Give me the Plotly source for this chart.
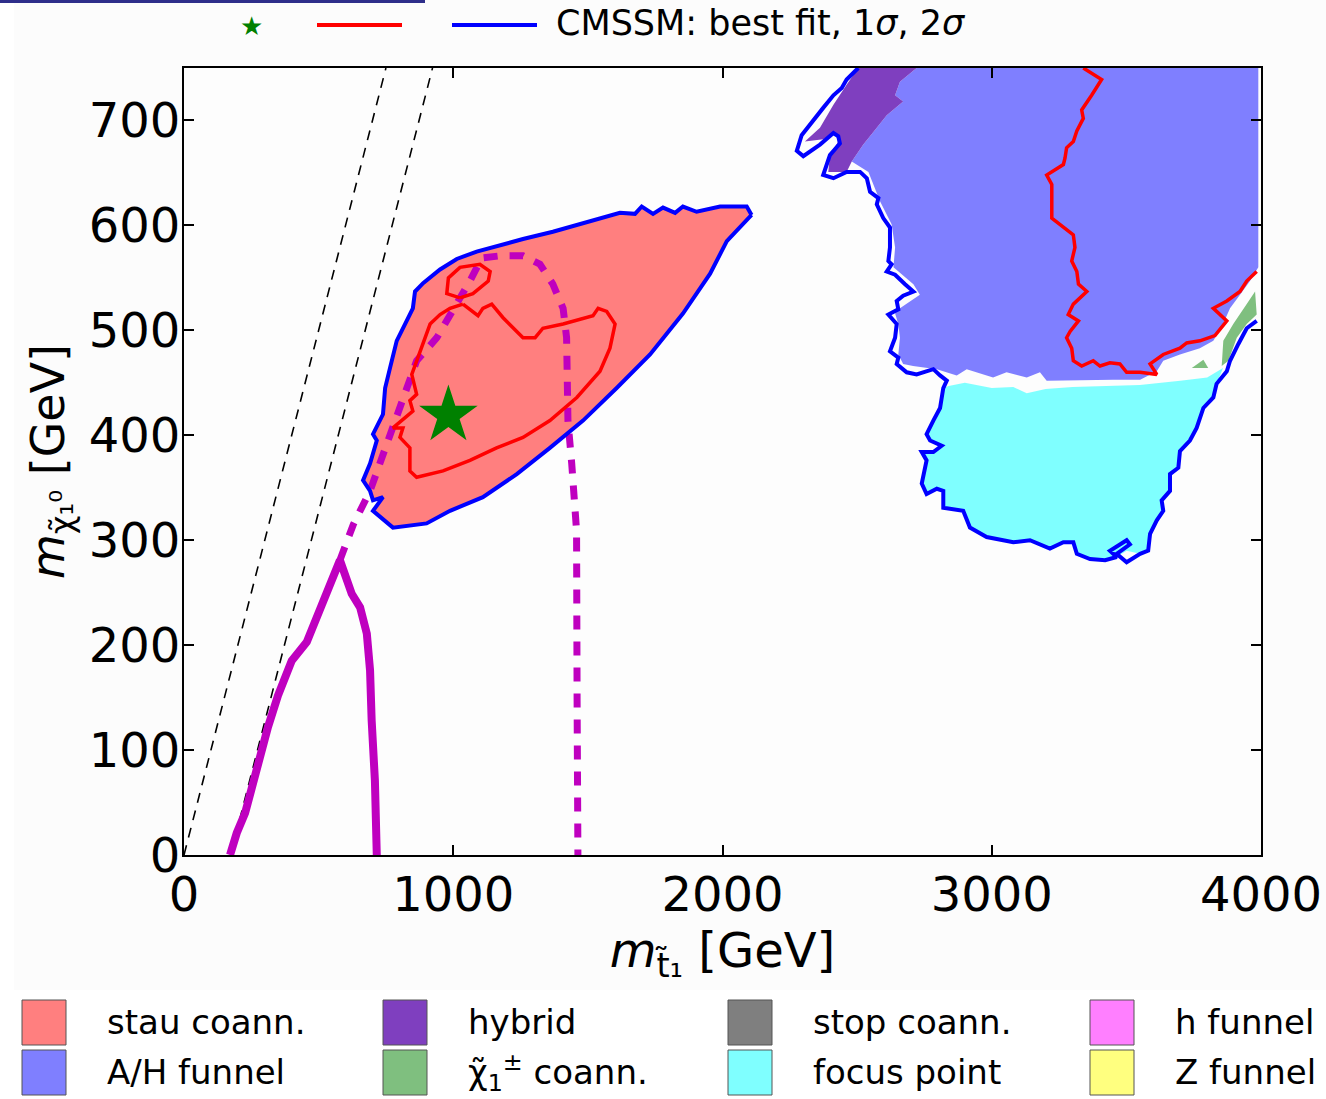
import plotly.graph_objects as go

# ---------------- data (GeV) ----------------
# 2-sigma (blue) contour around the stau-coannihilation island
stau_blue_x = [2108, 2090, 1991, 1904, 1853, 1824, 1779, 1742, 1700, 1675, 1619, 1482, 1370, 1259, 1161,
               1087, 1013, 951, 888, 858, 850, 821, 790, 765, 747, 739, 702, 716, 691, 665, 691, 702, 739,
               702, 776, 901, 988, 1110, 1236, 1359, 1482, 1607, 1731, 1853, 1954, 2016, 2076, 2108]
stau_blue_y = [610, 618, 618, 613, 618, 612, 617, 611, 618, 611, 612, 602, 594, 587, 580,
               575, 568, 558, 545, 537, 521, 506, 490, 464, 445, 420, 401, 395, 373, 357, 347, 338, 341,
               328, 312, 316, 328, 341, 363, 388, 414, 445, 477, 516, 554, 585, 601, 610]

# 1-sigma (red) contours in the stau island
stau_red_x = [1036, 1092, 1110, 1143, 1185, 1259, 1304, 1333, 1408, 1519, 1538, 1570, 1601, 1582, 1545,
              1459, 1359, 1259, 1161, 1062, 962, 864, 839, 839, 802, 813, 776, 850, 839, 864, 846, 877,
              914, 951, 988, 1036]
stau_red_y = [525, 514, 521, 525, 512, 493, 493, 502, 506, 514, 521, 518, 506, 483, 461,
              436, 414, 398, 388, 376, 366, 360, 366, 388, 398, 407, 407, 423, 433, 439, 458, 480,
              506, 515, 521, 525]
small_red_x = [1025, 976, 982, 1025, 1099, 1137, 1130, 1073, 1025]
small_red_y = [531, 535, 550, 560, 563, 556, 547, 535, 531]

# 2-sigma (blue) contour of the heavy region
heavy_blue_x = [2504, 2461, 2443, 2412, 2374, 2325, 2294, 2276, 2300, 2362, 2412, 2430, 2436, 2399, 2374,
                2412, 2461, 2511, 2536, 2548, 2579, 2573, 2597, 2622, 2622, 2616, 2628, 2610, 2641, 2678,
                2709, 2671, 2647, 2653, 2616, 2647, 2641, 2622, 2653, 2647, 2684, 2721, 2783, 2808, 2833,
                2820, 2808, 2783, 2758, 2771, 2814, 2783, 2740, 2758, 2746, 2740, 2758, 2796, 2820, 2820,
                2894, 2919, 2981, 3080, 3142, 3216, 3266, 3303, 3316, 3365, 3421, 3464, 3439, 3501, 3513,
                3464, 3501, 3551, 3581, 3588, 3613, 3637, 3631, 3662, 3662, 3693, 3699, 3736, 3761, 3786,
                3823, 3835, 3873, 3885, 3916, 3947, 3984]
heavy_blue_y = [750, 739, 731, 724, 712, 696, 686, 671, 666, 677, 688, 685, 678, 667, 648,
                645, 651, 651, 645, 632, 626, 620, 607, 598, 579, 566, 563, 556, 553, 544,
                537, 533, 528, 520, 515, 506, 493, 480, 474, 468, 460, 458, 463, 457, 452,
                445, 426, 414, 401, 395, 390, 384, 384, 376, 363, 354, 344, 349, 347, 331,
                328, 312, 303, 298, 300, 292, 298, 298, 287, 282, 281, 284, 290, 300, 296,
                287, 279, 287, 290, 306, 319, 328, 338, 347, 363, 369, 385, 395, 407, 426,
                436, 449, 461, 471, 487, 502, 509]

# 1-sigma (red) contour of the heavy region
heavy_red_x = [3340, 3408, 3371, 3334, 3340, 3316, 3303, 3278, 3272, 3266, 3204, 3223, 3223, 3266, 3303,
               3309, 3297, 3316, 3322, 3353, 3303, 3284, 3322, 3291, 3278, 3297, 3303, 3334, 3377, 3402,
               3439, 3476, 3501, 3551, 3613, 3588, 3637, 3699, 3724, 3773, 3829, 3873, 3823, 3873, 3922,
               3947, 3984]
heavy_red_y = [750, 739, 724, 710, 702, 690, 680, 674, 664, 658, 648, 639, 607, 598, 591,
               579, 566, 556, 544, 537, 525, 515, 509, 499, 493, 483, 471, 466, 471, 466,
               469, 468, 460, 460, 458, 468, 477, 483, 488, 490, 495, 509, 521, 528, 537,
               547, 556]

# dark-matter mechanism regions
hybrid_x = [2504, 2721, 2659, 2641, 2671, 2610, 2573, 2523, 2480, 2461, 2393, 2399, 2430, 2418, 2374,
            2306, 2362, 2412, 2461, 2504]
hybrid_y = [750, 750, 737, 724, 718, 705, 693, 677, 661, 651, 651, 667, 680, 688, 682,
            680, 693, 715, 734, 750]

ah_x = [2721, 3990, 3990, 3959, 3922, 3885, 3859, 3823, 3773, 3699, 3637, 3613, 3551, 3451, 3204,
        3179, 3130, 3055, 3005, 2907, 2870, 2833, 2796, 2708, 2671, 2653, 2659, 2653, 2641, 2659,
        2733, 2709, 2635, 2641, 2628, 2585, 2560, 2542, 2480, 2523, 2573, 2610, 2671, 2641, 2659, 2721]
ah_y = [750, 750, 560, 547, 534, 521, 506, 490, 483, 477, 471, 461, 453, 453, 452,
        460, 455, 460, 455, 463, 457, 460, 463, 466, 468, 477, 493, 506, 516, 521,
        534, 544, 560, 579, 601, 623, 639, 651, 661, 677, 693, 705, 718, 724, 737, 750]

focus_x = [2840, 2820, 2808, 2783, 2758, 2771, 2814, 2783, 2740, 2758, 2746, 2740, 2758, 2796, 2820,
           2820, 2894, 2919, 2981, 3080, 3142, 3216, 3266, 3303, 3316, 3365, 3421, 3464, 3501, 3551,
           3581, 3588, 3613, 3637, 3631, 3662, 3662, 3693, 3699, 3736, 3761, 3786, 3823, 3835, 3859,
           3800, 3700, 3550, 3300, 3200, 3130, 3080, 3000, 2900, 2840]
focus_y = [447, 445, 426, 414, 401, 395, 390, 384, 384, 376, 363, 354, 344, 349, 347,
           331, 328, 312, 303, 298, 300, 292, 298, 298, 287, 282, 281, 284, 290, 287,
           290, 306, 319, 328, 338, 347, 363, 369, 385, 395, 407, 426, 436, 449, 464,
           455, 452, 448, 446, 444, 440, 446, 445, 450, 447]

chargino_x = [3978, 3984, 3947, 3910, 3879, 3854, 3860, 3897, 3947, 3978]
chargino_y = [537, 515, 506, 493, 471, 466, 490, 506, 525, 537]
chargino2_x = [3743, 3786, 3804, 3743]
chargino2_y = [464, 472, 464, 464]

# LHC exclusion (solid) and projection (dashed)
lhc_x = [171, 196, 227, 251, 282, 312, 349, 400, 456, 505, 549, 579, 623, 654, 679, 691, 697, 709, 716]
lhc_y = [0, 21, 40, 65, 97, 122, 152, 185, 203, 233, 263, 281, 249, 236, 211, 176, 128, 71, 0]
proj_x = [579, 629, 691, 753, 813, 864, 939, 999, 1062, 1106, 1174, 1259, 1322, 1370, 1408, 1421, 1421,
          1426, 1440, 1458, 1460, 1463]
proj_y = [281, 315, 347, 392, 436, 471, 493, 518, 547, 569, 571, 571, 563, 544, 521, 493, 452,
          414, 373, 309, 147, 0]

# kinematic boundaries
kin1_x = [0, 750]
kin1_y = [0, 750]
kin2_x = [173, 923]
kin2_y = [0, 750]

best_fit_x = [982]
best_fit_y = [419]

x_ticks = [0, 1000, 2000, 3000, 4000]
y_ticks = [0, 100, 200, 300, 400, 500, 600, 700]

legend_labels = ["stau coann.", "A/H funnel", "hybrid", "χ̃<sub>1</sub><sup>±</sup> coann.",
                 "stop coann.", "focus point", "h funnel", "Z funnel"]
legend_colors = ["#FF7F7F", "#7F7FFF", "#7F3FBF", "#7FBF7F", "#7F7F7F", "#7FFFFF", "#FF7FFF", "#FFFF7F"]

STAU, AH, HYB, CHA, FOC = "#FF7F7F", "#7F7FFF", "#7F3FBF", "#7FBF7F", "#7FFFFF"
BLUE, RED, MAG = "#0000FF", "#FF0000", "#BF00BF"

# ---------------- figure ----------------
W, H = 1326, 1099
L, R, T, B = 184, 1261, 68, 855   # plot area in pixels


def px(xp):
    return (xp - L) / (R - L)


def py(yp):
    return (B - yp) / (B - T)


fig = go.Figure()


def fill(x, y, c):
    fig.add_trace(go.Scatter(x=x, y=y, mode="lines", fill="toself", fillcolor=c,
                             line=dict(width=0, color=c), hoverinfo="skip", showlegend=False))


def line(x, y, c, w, dash="solid"):
    fig.add_trace(go.Scatter(x=x, y=y, mode="lines", line=dict(color=c, width=w, dash=dash),
                             hoverinfo="skip", showlegend=False))


fill(stau_blue_x, stau_blue_y, STAU)
fill(ah_x, ah_y, AH)
fill(hybrid_x, hybrid_y, HYB)
fill(focus_x, focus_y, FOC)
fill(chargino_x, chargino_y, CHA)
fill(chargino2_x, chargino2_y, CHA)

line(kin1_x, kin1_y, "black", 1.6, "10px,8px")
line(kin2_x, kin2_y, "black", 1.6, "10px,8px")

line(lhc_x, lhc_y, MAG, 8)
line(proj_x, proj_y, MAG, 7, "14px,12px")

line(stau_blue_x, stau_blue_y, BLUE, 4)
line(heavy_blue_x, heavy_blue_y, BLUE, 4)
line(stau_red_x, stau_red_y, RED, 3.5)
line(small_red_x, small_red_y, RED, 3.5)
line(heavy_red_x, heavy_red_y, RED, 3.5)

fig.add_trace(go.Scatter(x=best_fit_x, y=best_fit_y, mode="markers",
                         marker=dict(symbol="star", size=44, color="#008000", line=dict(width=0)),
                         hoverinfo="skip", showlegend=False))

shapes = []
annotations = []

# white frame strips and thin navy bar at top (slide artifacts)
shapes.append(dict(type="rect", xref="paper", yref="paper", x0=px(0), x1=px(14), y0=py(1099), y1=py(0),
                   fillcolor="white", line=dict(width=0), layer="below"))
shapes.append(dict(type="rect", xref="paper", yref="paper", x0=px(0), x1=px(1326), y0=py(1099), y1=py(990),
                   fillcolor="white", line=dict(width=0), layer="below"))
shapes.append(dict(type="rect", xref="paper", yref="paper", x0=px(0), x1=px(425), y0=py(3), y1=py(0),
                   fillcolor="#2E2E8A", line=dict(width=0), layer="above"))

# top legend
annotations.append(dict(xref="paper", yref="paper", x=px(251), y=py(26), text="★", showarrow=False,
                        font=dict(size=26, color="#008000", family="DejaVu Sans"),
                        xanchor="center", yanchor="middle"))
shapes.append(dict(type="line", xref="paper", yref="paper", x0=px(317), x1=px(402), y0=py(25), y1=py(25),
                   line=dict(color=RED, width=4)))
shapes.append(dict(type="line", xref="paper", yref="paper", x0=px(452), x1=px(537), y0=py(25), y1=py(25),
                   line=dict(color=BLUE, width=4)))
annotations.append(dict(xref="paper", yref="paper", x=px(554), y=py(23),
                        text="CMSSM: best fit, 1<i>σ</i>, 2<i>σ</i>", showarrow=False,
                        font=dict(size=35, color="black", family="DejaVu Sans"),
                        xanchor="left", yanchor="middle"))

# bottom legend
col_x = [22, 383, 728, 1090]
row_y = [1000, 1050]
for i, (lab, col) in enumerate(zip(legend_labels, legend_colors)):
    c, r = divmod(i, 2)
    x0 = col_x[c]
    y0 = row_y[r]
    shapes.append(dict(type="rect", xref="paper", yref="paper", x0=px(x0), x1=px(x0 + 44),
                       y0=py(y0 + 45), y1=py(y0), fillcolor=col,
                       line=dict(color="#555555", width=1)))
    annotations.append(dict(xref="paper", yref="paper", x=px(x0 + 83), y=py(y0 + 22),
                            text=lab, showarrow=False,
                            font=dict(size=34, color="black", family="DejaVu Sans"),
                            xanchor="left", yanchor="middle"))

fig.update_layout(
    width=W, height=H,
    margin=dict(l=L, r=W - R, t=T, b=H - B, pad=0, autoexpand=False),
    paper_bgcolor="#FCFCFC", plot_bgcolor="#FDFDFD",
    shapes=shapes, annotations=annotations,
    font=dict(family="DejaVu Sans", color="black"),
)
fig.update_xaxes(range=[0, 4000], tickvals=x_ticks, ticktext=[str(v) for v in x_ticks],
                 automargin=False,
                 showgrid=False, zeroline=False, showline=True, linecolor="black", linewidth=2,
                 mirror="ticks", ticks="inside", ticklen=10, tickwidth=1.5, tickcolor="black",
                 tickfont=dict(size=48, family="DejaVu Sans"), ticklabelstandoff=-4,
                 title=dict(text="<i>m</i><sub>t̃₁</sub> [GeV]", font=dict(size=48, family="DejaVu Sans"),
                            standoff=6))
fig.update_yaxes(range=[0, 750], tickvals=y_ticks, ticktext=[str(v) for v in y_ticks],
                 automargin=False,
                 showgrid=False, zeroline=False, showline=True, linecolor="black", linewidth=2,
                 mirror="ticks", ticks="inside", ticklen=10, tickwidth=1.5, tickcolor="black",
                 tickfont=dict(size=48, family="DejaVu Sans"), ticklabelstandoff=-8,
                 title=dict(text="<i>m</i><sub>χ̃₁⁰</sub> [GeV]", font=dict(size=46, family="DejaVu Sans"),
                            standoff=10))

fig.write_html("out.html", config={"displayModeBar": False},
               post_script="document.body.style.margin='0px';")
